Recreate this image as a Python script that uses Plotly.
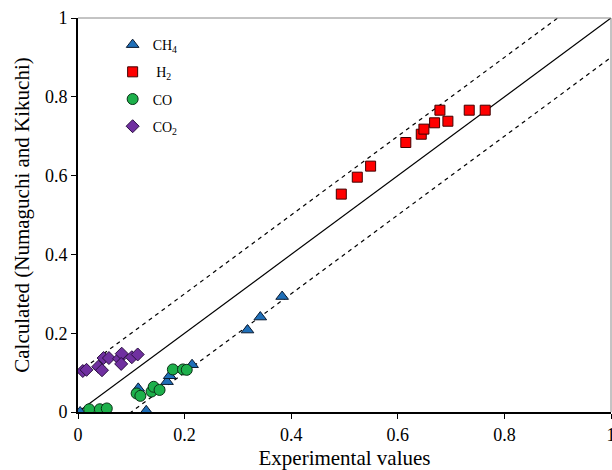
import plotly.graph_objects as go

# CH4
ch4_x = [0.004, 0.053, 0.113, 0.128, 0.167, 0.172, 0.214, 0.318, 0.342, 0.383]
ch4_y = [0.000, 0.000, 0.060, 0.003, 0.077, 0.092, 0.120, 0.208, 0.241, 0.293]
# H2
h2_x = [0.494, 0.524, 0.549, 0.615, 0.644, 0.649, 0.669, 0.679, 0.694, 0.734, 0.764]
h2_y = [0.553, 0.596, 0.624, 0.684, 0.705, 0.718, 0.734, 0.766, 0.738, 0.766, 0.766]
# CO
co_x = [0.021, 0.041, 0.054, 0.110, 0.117, 0.138, 0.142, 0.153, 0.178, 0.197, 0.204]
co_y = [0.007, 0.007, 0.009, 0.047, 0.041, 0.052, 0.064, 0.056, 0.108, 0.108, 0.107]
# CO2
co2_x = [0.009, 0.016, 0.038, 0.045, 0.048, 0.058, 0.077, 0.082, 0.081, 0.101, 0.112]
co2_y = [0.104, 0.107, 0.115, 0.106, 0.137, 0.137, 0.135, 0.148, 0.122, 0.139, 0.146]

# parity line and +/- deviation band
line_x = [0.0, 1.0]
band = 0.1

tick_vals = [0, 0.2, 0.4, 0.6, 0.8, 1]
tick_text = ["0", "0.2", "0.4", "0.6", "0.8", "1"]

FONT = "Liberation Serif, Times New Roman, serif"

fig = go.Figure()

fig.add_trace(go.Scatter(x=line_x, y=[v for v in line_x], mode="lines",
                         line=dict(color="black", width=1.2), showlegend=False, hoverinfo="skip"))
fig.add_trace(go.Scatter(x=line_x, y=[v + band for v in line_x], mode="lines",
                         line=dict(color="black", width=1.2, dash="4px,4px"), showlegend=False, hoverinfo="skip"))
fig.add_trace(go.Scatter(x=line_x, y=[v - band for v in line_x], mode="lines",
                         line=dict(color="black", width=1.2, dash="4px,4px"), showlegend=False, hoverinfo="skip"))

fig.add_trace(go.Scatter(x=ch4_x, y=ch4_y, mode="markers", name="CH<sub>4</sub>", legendgroup="a",
                         marker=dict(symbol="triangle-up", size=11, color="#1F6FB8",
                                     line=dict(color="#0a1a30", width=1))))
fig.add_trace(go.Scatter(x=h2_x, y=h2_y, mode="markers", name=" H<sub>2</sub>", legendgroup="b",
                         marker=dict(symbol="square", size=10, color="#FF0000",
                                     line=dict(color="#400000", width=1))))
fig.add_trace(go.Scatter(x=co_x, y=co_y, mode="markers", name="CO", legendgroup="c",
                         marker=dict(symbol="circle", size=11, color="#1DB04B",
                                     line=dict(color="#0a3016", width=1))))
fig.add_trace(go.Scatter(x=co2_x, y=co2_y, mode="markers", name="CO<sub>2</sub>", legendgroup="d",
                         marker=dict(symbol="diamond", size=10, color="#7030A0",
                                     line=dict(color="#2a0f40", width=1))))

fig.update_layout(
    width=612, height=470,
    margin=dict(l=78, r=1, t=18, b=58, autoexpand=False),
    paper_bgcolor="white", plot_bgcolor="white",
    font=dict(family=FONT, color="black", size=18),
    legend=dict(x=0.065, y=0.972, xanchor="left", yanchor="top",
                font=dict(family=FONT, size=14), bgcolor="rgba(0,0,0,0)",
                tracegroupgap=6, itemwidth=30),
    xaxis=dict(range=[0, 1], tickvals=tick_vals, ticktext=tick_text, automargin=False,
               ticklabeloverflow="allow",
               showgrid=False, zeroline=False, showline=True, linecolor="black", linewidth=2,
               ticks="outside", ticklen=5, tickcolor="black", tickwidth=1,
               title=dict(text="Experimental values", font=dict(size=21), standoff=8)),
    yaxis=dict(range=[0, 1], tickvals=tick_vals, ticktext=tick_text, automargin=False,
               ticklabeloverflow="allow",
               showgrid=False, zeroline=False, showline=True, linecolor="black", linewidth=2,
               ticks="outside", ticklen=5, tickcolor="black", tickwidth=1,
               title=dict(text="Calculated (Numaguchi and Kikuchi)", font=dict(size=21), standoff=10)),
    shapes=[
        dict(type="line", xref="paper", yref="paper", x0=0, x1=1, y0=1, y1=1,
             line=dict(color="#888888", width=1)),
        dict(type="line", xref="paper", yref="paper", x0=1, x1=1, y0=0, y1=1,
             line=dict(color="#888888", width=1)),
    ],
)

fig.write_html(
    "out.html",
    config={"displayModeBar": False},
    post_script="document.body.style.margin='0';document.body.style.overflow='hidden';",
)
